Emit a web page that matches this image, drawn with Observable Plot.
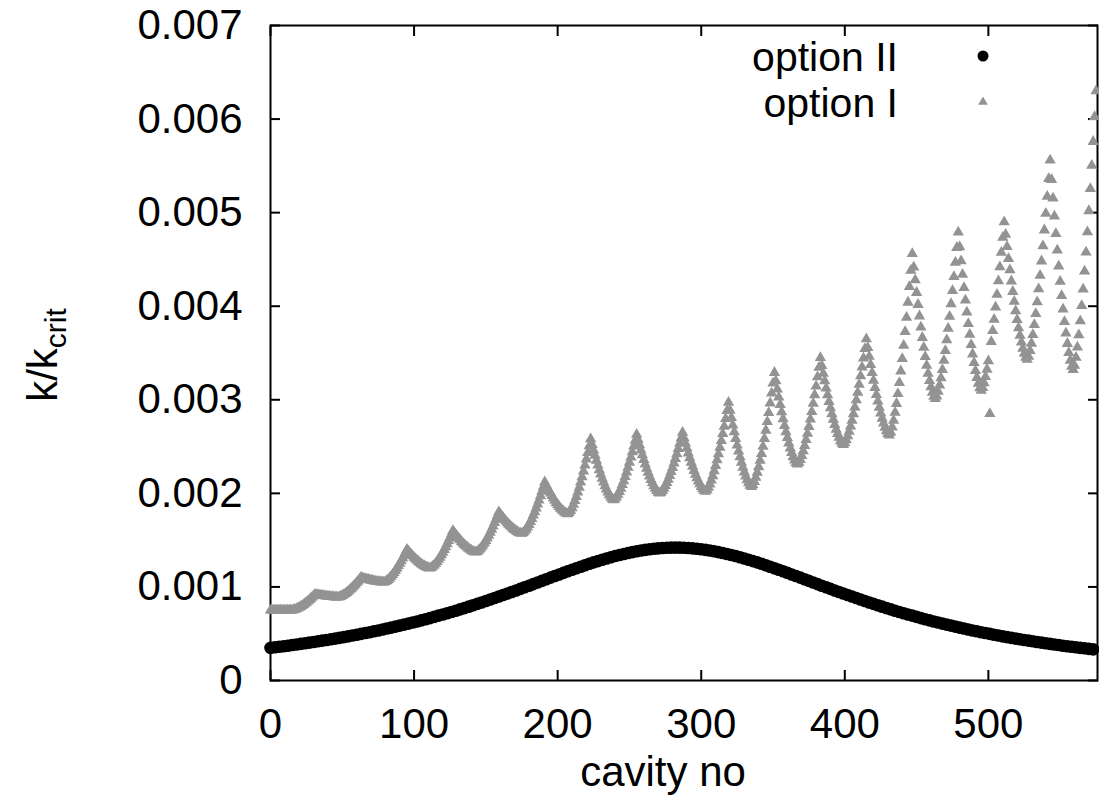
<!DOCTYPE html>
<html>
<head>
<meta charset="utf-8">
<script src="https://cdn.jsdelivr.net/npm/d3@7"></script>
<script src="https://cdn.jsdelivr.net/npm/@observablehq/plot@0.6"></script>
<style>
html,body{margin:0;padding:0;background:#fff;}
#chart{position:relative;width:1099px;height:812px;}
</style>
</head>
<body>
<div id="chart"></div>
<script>
// ---- tick values and labels ----
const xTicks = [0, 100, 200, 300, 400, 500];
const xTickLabels = ["0", "100", "200", "300", "400", "500"];
const yTicks = [0, 0.001, 0.002, 0.003, 0.004, 0.005, 0.006, 0.007];
const yTickLabels = ["0", "0.001", "0.002", "0.003", "0.004", "0.005", "0.006", "0.007"];
const xLabel = "cavity no";
const seriesNames = ["option II", "option I"];

// ---- option II: k/k_crit read every 3rd cavity (0, 3, ..., 573) ----
const optionIIStep = 3;
const optionII = [
0.000349,0.000355,0.000361,0.000366,0.000372,0.000379,0.000385,0.000391,0.000398,0.000405,0.000412,0.000419,0.000426,0.000433,0.000441,0.000448,
0.000456,0.000464,0.000472,0.000481,0.000489,0.000498,0.000507,0.000516,0.000526,0.000535,0.000545,0.000555,0.000565,0.000576,0.000586,0.000597,
0.000608,0.000620,0.000631,0.000643,0.000655,0.000667,0.000680,0.000693,0.000706,0.000719,0.000732,0.000746,0.000760,0.000774,0.000789,0.000804,
0.000819,0.000834,0.000849,0.000865,0.000881,0.000897,0.000913,0.000929,0.000946,0.000962,0.000979,0.000996,0.001013,0.001030,0.001048,0.001065,
0.001082,0.001099,0.001116,0.001133,0.001150,0.001167,0.001183,0.001200,0.001216,0.001231,0.001247,0.001262,0.001276,0.001291,0.001304,0.001317,
0.001330,0.001341,0.001352,0.001363,0.001372,0.001381,0.001389,0.001396,0.001402,0.001408,0.001412,0.001416,0.001418,0.001420,0.001420,
0.001420,0.001418,0.001416,0.001412,0.001408,0.001402,0.001396,0.001389,0.001381,0.001372,0.001363,0.001352,0.001341,0.001330,0.001317,0.001304,
0.001291,0.001276,0.001262,0.001247,0.001231,0.001216,0.001200,0.001183,0.001167,0.001150,0.001133,0.001116,0.001099,0.001082,0.001065,0.001048,
0.001030,0.001013,0.000996,0.000979,0.000962,0.000946,0.000929,0.000913,0.000897,0.000881,0.000865,0.000849,0.000834,0.000819,0.000804,0.000789,
0.000774,0.000760,0.000746,0.000732,0.000719,0.000706,0.000693,0.000680,0.000667,0.000655,0.000643,0.000631,0.000620,0.000608,0.000597,0.000586,
0.000576,0.000565,0.000555,0.000545,0.000535,0.000526,0.000516,0.000507,0.000498,0.000489,0.000481,0.000472,0.000464,0.000456,0.000448,0.000441,
0.000433,0.000426,0.000419,0.000412,0.000405,0.000398,0.000391,0.000385,0.000379,0.000372,0.000366,0.000361,0.000355,0.000349,0.000344,0.000338,
0.000333
];

// ---- option I: k/k_crit for every cavity 0..575 ----
const optionI = [
0.000750,0.000750,0.000750,0.000750,0.000750,0.000750,0.000750,0.000750,0.000750,0.000750,0.000750,0.000750,0.000750,0.000750,0.000750,0.000750,
0.000753,0.000758,0.000764,0.000771,0.000780,0.000789,0.000799,0.000810,0.000822,0.000834,0.000847,0.000860,0.000875,0.000889,0.000904,0.000920,
0.000917,0.000915,0.000912,0.000910,0.000907,0.000905,0.000903,0.000901,0.000899,0.000897,0.000895,0.000894,0.000892,0.000891,0.000890,0.000890,
0.000893,0.000899,0.000907,0.000916,0.000927,0.000938,0.000951,0.000964,0.000979,0.000994,0.001010,0.001026,0.001044,0.001062,0.001081,0.001100,
0.001095,0.001091,0.001087,0.001082,0.001079,0.001075,0.001071,0.001068,0.001064,0.001061,0.001059,0.001056,0.001054,0.001052,0.001051,0.001050,
0.001055,0.001065,0.001078,0.001094,0.001111,0.001130,0.001151,0.001174,0.001198,0.001223,0.001250,0.001277,0.001306,0.001336,0.001368,0.001400,
0.001382,0.001364,0.001346,0.001330,0.001314,0.001299,0.001284,0.001271,0.001258,0.001246,0.001235,0.001225,0.001216,0.001209,0.001203,0.001200,
0.001206,0.001218,0.001232,0.001250,0.001270,0.001292,0.001316,0.001341,0.001369,0.001398,0.001428,0.001460,0.001493,0.001527,0.001563,0.001600,
0.001579,0.001558,0.001538,0.001519,0.001501,0.001484,0.001467,0.001451,0.001437,0.001423,0.001410,0.001399,0.001389,0.001380,0.001374,0.001370,
0.001377,0.001389,0.001405,0.001424,0.001445,0.001469,0.001494,0.001522,0.001551,0.001582,0.001615,0.001649,0.001685,0.001722,0.001760,0.001800,
0.001779,0.001758,0.001738,0.001719,0.001701,0.001684,0.001667,0.001651,0.001637,0.001623,0.001610,0.001599,0.001589,0.001580,0.001574,0.001570,
0.001579,0.001594,0.001615,0.001639,0.001666,0.001696,0.001729,0.001765,0.001802,0.001842,0.001884,0.001927,0.001973,0.002020,0.002069,0.002120,
0.002089,0.002058,0.002029,0.002001,0.001974,0.001948,0.001923,0.001900,0.001878,0.001858,0.001839,0.001823,0.001808,0.001795,0.001785,0.001780,
0.001792,0.001815,0.001845,0.001880,0.001920,0.001964,0.002012,0.002063,0.002118,0.002175,0.002236,0.002300,0.002366,0.002435,0.002506,0.002580,
0.002520,0.002462,0.002406,0.002352,0.002301,0.002251,0.002204,0.002160,0.002118,0.002079,0.002044,0.002011,0.001983,0.001959,0.001940,0.001930,
0.001941,0.001961,0.001987,0.002018,0.002052,0.002091,0.002133,0.002178,0.002225,0.002276,0.002329,0.002385,0.002443,0.002503,0.002565,0.002630,
0.002572,0.002516,0.002461,0.002409,0.002359,0.002311,0.002266,0.002223,0.002182,0.002145,0.002110,0.002079,0.002051,0.002028,0.002010,0.002000,
0.002010,0.002029,0.002053,0.002081,0.002114,0.002149,0.002188,0.002230,0.002274,0.002321,0.002371,0.002422,0.002476,0.002532,0.002590,0.002650,
0.002592,0.002536,0.002481,0.002429,0.002379,0.002331,0.002286,0.002243,0.002202,0.002165,0.002130,0.002099,0.002071,0.002048,0.002030,0.002020,
0.002035,0.002062,0.002097,0.002139,0.002186,0.002238,0.002295,0.002356,0.002421,0.002489,0.002562,0.002637,0.002716,0.002798,0.002882,0.002970,
0.002887,0.002807,0.002729,0.002655,0.002583,0.002515,0.002450,0.002388,0.002330,0.002277,0.002227,0.002183,0.002143,0.002110,0.002084,0.002070,
0.002089,0.002124,0.002169,0.002223,0.002283,0.002350,0.002423,0.002501,0.002585,0.002673,0.002765,0.002862,0.002964,0.003069,0.003177,0.003290,
0.003200,0.003112,0.003028,0.002947,0.002869,0.002794,0.002724,0.002657,0.002594,0.002535,0.002481,0.002433,0.002390,0.002353,0.002325,0.002310,
0.002328,0.002360,0.002403,0.002453,0.002509,0.002572,0.002640,0.002713,0.002791,0.002873,0.002960,0.003050,0.003145,0.003243,0.003345,0.003450,
0.003364,0.003281,0.003201,0.003124,0.003050,0.002980,0.002912,0.002849,0.002789,0.002734,0.002683,0.002636,0.002596,0.002561,0.002535,0.002520,
0.002538,0.002570,0.002612,0.002661,0.002717,0.002779,0.002847,0.002920,0.002997,0.003078,0.003164,0.003254,0.003348,0.003445,0.003546,0.003650,
0.003555,0.003463,0.003374,0.003289,0.003207,0.003129,0.003055,0.002984,0.002918,0.002857,0.002800,0.002749,0.002704,0.002666,0.002636,0.002620,
0.002650,0.002706,0.002778,0.002863,0.002959,0.003065,0.003181,0.003306,0.003439,0.003579,0.003726,0.003880,0.004041,0.004208,0.004381,0.004560,
0.004417,0.004279,0.004145,0.004017,0.003894,0.003776,0.003664,0.003558,0.003459,0.003366,0.003281,0.003204,0.003136,0.003079,0.003034,0.003010,
0.003038,0.003089,0.003155,0.003233,0.003321,0.003419,0.003525,0.003639,0.003761,0.003890,0.004025,0.004166,0.004314,0.004467,0.004626,0.004790,
0.004634,0.004483,0.004338,0.004198,0.004063,0.003935,0.003813,0.003698,0.003589,0.003488,0.003395,0.003311,0.003237,0.003175,0.003126,0.003100,
0.003128,0.003180,0.003246,0.003325,0.003415,0.002850,0.003621,0.003737,0.003859,0.003989,0.004126,0.004269,0.004418,0.004573,0.004734,0.004900,
0.004766,0.004635,0.004508,0.004387,0.004268,0.004156,0.004050,0.003950,0.003855,0.003768,0.003687,0.003614,0.003549,0.003495,0.003453,0.003430,
0.003463,0.003524,0.003603,0.003696,0.003802,0.003919,0.004046,0.004183,0.004329,0.004482,0.004644,0.004813,0.004990,0.005173,0.005363,0.005560,
0.005353,0.005153,0.004961,0.004775,0.004597,0.004427,0.004265,0.004112,0.003968,0.003834,0.003711,0.003600,0.003502,0.003419,0.003355,0.003320,
0.003367,0.003452,0.003562,0.003693,0.003841,0.004004,0.004182,0.004374,0.004577,0.004792,0.005019,0.005256,0.005503,0.005759,0.006025,0.006300
];

// ---- build tables ----
const dataII = optionII.map((k, i) => ({cavity: i * optionIIStep, k}));
const dataI = optionI.map((k, i) => ({cavity: i, k}));

const FONT = '"Liberation Sans", Arial, Helvetica, sans-serif';
const GRAY = "#939393";
const FS = 42;
const TRI_R = 4.2;

const plot = Plot.plot({
  width: 1099,
  height: 812,
  marginLeft: 270,
  marginRight: 2,
  marginTop: 25,
  marginBottom: 132,
  style: {fontFamily: FONT, fontSize: FS + "px", color: "#000", background: "#fff", overflow: "visible"},
  x: {domain: [0, 576]},
  y: {domain: [0, 0.007]},
  marks: [
    Plot.frame({stroke: "#000", strokeWidth: 2}),
    // inward ticks on all four sides
    Plot.axisX(xTicks, {anchor: "bottom", tickSize: 10, dy: -10, fill: "none", label: null, strokeWidth: 2}),
    Plot.axisX(xTicks, {anchor: "top", tickSize: 10, dy: 10, fill: "none", label: null, strokeWidth: 2}),
    Plot.axisY(yTicks, {anchor: "left", tickSize: 10, dx: 10, fill: "none", label: null, strokeWidth: 2}),
    Plot.axisY(yTicks, {anchor: "right", tickSize: 10, dx: -10, fill: "none", label: null, strokeWidth: 2}),
    // tick labels
    Plot.axisX(xTicks, {anchor: "bottom", tickSize: 0, tickPadding: 28, label: null, fontSize: FS,
      tickFormat: d => xTickLabels[xTicks.indexOf(d)]}),
    Plot.axisY(yTicks, {anchor: "left", tickSize: 0, tickPadding: 28, label: null, fontSize: FS,
      tickFormat: d => yTickLabels[yTicks.indexOf(d)]}),
    // data
    Plot.dot(dataII, {x: "cavity", y: "k", r: 6.3, fill: "#000", stroke: "none"}),
    Plot.dot(dataI, {x: "cavity", y: "k", symbol: "triangle", r: TRI_R, fill: GRAY, stroke: "none"})
  ]
});

const svg = d3.select(plot);

// y-axis label k/k_crit
const yl = svg.append("text")
  .attr("transform", "translate(57,355) rotate(-90)")
  .attr("text-anchor", "middle")
  .attr("font-family", FONT)
  .attr("font-size", FS)
  .attr("fill", "#000");
yl.append("tspan").text("k/k");
yl.append("tspan").attr("font-size", 30).attr("dy", 9).text("crit");

// x-axis label
svg.append("text")
  .attr("x", 663).attr("y", 786)
  .attr("text-anchor", "middle")
  .attr("font-family", FONT)
  .attr("font-size", FS)
  .attr("fill", "#000")
  .text(xLabel);

// legend
const LFS = 41;
const legend = svg.append("g").attr("font-family", FONT).attr("font-size", LFS).attr("fill", "#000");
const legendSymbols = [d3.symbolCircle, d3.symbolTriangle];
const legendSizes = [Math.PI * 5.5 * 5.5, Math.PI * 3.6 * 3.6];
const legendFills = ["#000", GRAY];
seriesNames.forEach((name, i) => {
  const cy = 56 + i * 46;
  legend.append("text").attr("x", 898).attr("y", cy + 15).attr("text-anchor", "end").text(name);
  legend.append("path")
    .attr("transform", `translate(983,${cy})`)
    .attr("d", d3.symbol(legendSymbols[i], legendSizes[i])())
    .attr("fill", legendFills[i]);
});

document.getElementById("chart").appendChild(plot);
</script>
</body>
</html>
